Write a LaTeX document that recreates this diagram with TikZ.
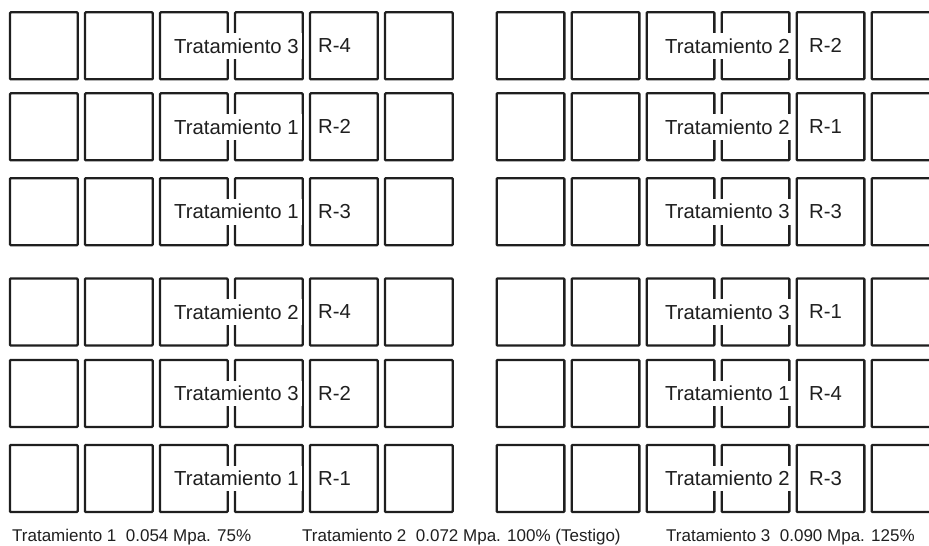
\documentclass[tikz,border=0pt]{standalone}
\usepackage{fontspec}
\setmainfont{Liberation Sans}
\begin{document}
\begin{tikzpicture}[x=1pt,y=-1pt,
  plot/.style={draw=black!88, line width=2.3pt, rounded corners=0.8pt, minimum width=67.6pt, minimum height=67pt, inner sep=0pt, anchor=center},
  trat/.style={fill=white, inner xsep=3pt, inner ysep=5.5pt, anchor=west, font=\fontsize{20.3}{24}\selectfont, text=black!88},
  rep/.style={inner sep=0pt, anchor=west, font=\fontsize{20.3}{24}\selectfont, text=black!88},
  legend/.style={inner sep=0pt, anchor=base west, font=\fontsize{17}{20}\selectfont, text=black!88}]
\useasboundingbox (0,0) rectangle (929,546);
\clip (0,0) rectangle (929,546);
\foreach \r/\yc in {1/45.8,2/126.8,3/211.7,4/312,5/393.5,6/478.5}{
  \foreach \c in {1,...,6}{
    \node[plot] (L\r c\c) at ({43.85+75*(\c-1)},\yc) {};
    \node[plot] (R\r c\c) at ({530.55+75*(\c-1)},\yc) {};
  }
}
\foreach \r/\yc/\a/\b/\p/\q in {1/45.8/3/4/2/2, 2/126.8/1/2/2/1, 3/211.7/1/3/3/3, 4/312/2/4/3/1, 5/393.5/3/2/1/4, 6/478.5/1/1/2/3}{
  \node[trat] (LT\r) at (171,\yc) {Tratamiento \a};
  \node[rep] (LR\r) at (318,\yc) {R-\b};
  \node[trat] (RT\r) at (662,\yc) {Tratamiento \p};
  \node[rep] (RR\r) at (809,\yc) {R-\q};
}
\node[legend] (leg1) at (12,541.5) {Tratamiento 1\ \ 0.054 Mpa. 75\%};
\node[legend] (leg2) at (302,541.5) {Tratamiento 2\ \ 0.072 Mpa. 100\% (Testigo)};
\node[legend] (leg3) at (666,541.5) {Tratamiento 3\ \ 0.090 Mpa. 125\%};
\end{tikzpicture}
\end{document}
